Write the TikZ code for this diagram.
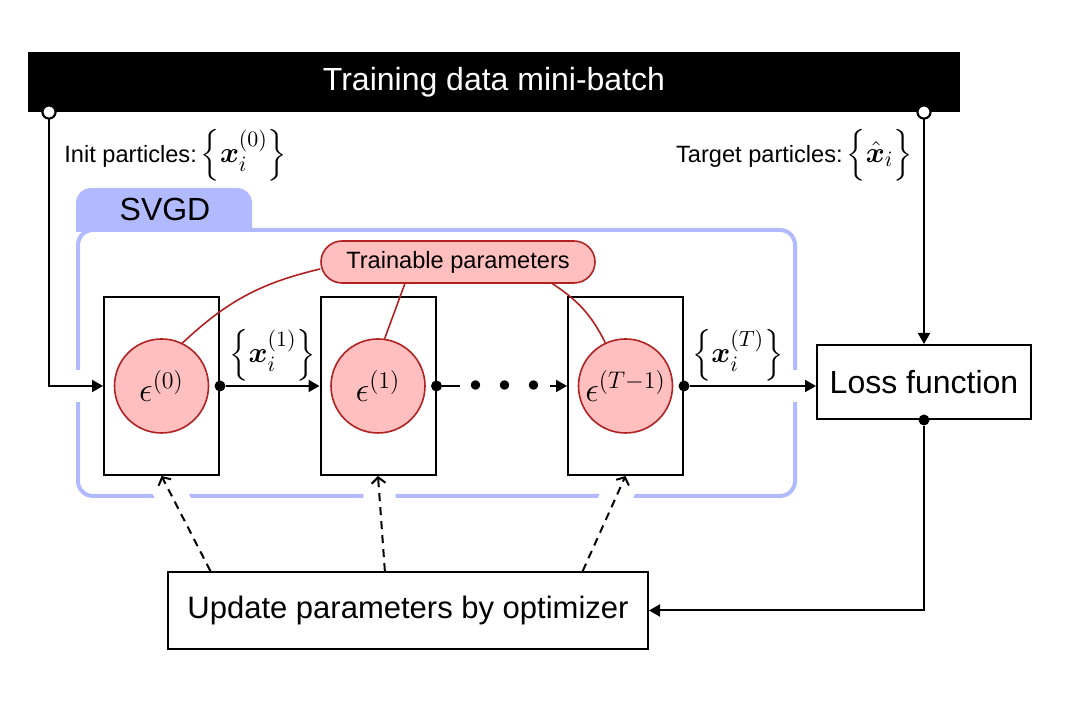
\documentclass[tikz,border=0pt]{standalone}
\usepackage[no-math]{fontspec}
\setmainfont{Liberation Sans}
\usepackage{amsmath,bm}
\usetikzlibrary{arrows.meta,calc}
\definecolor{svgdblue}{RGB}{178,186,255}
\definecolor{redfill}{RGB}{255,191,191}
\definecolor{redline}{RGB}{178,34,34}
\pgfdeclarelayer{back}
\pgfdeclarelayer{mid}
\pgfsetlayers{back,mid,main}
\newcommand{\myfs}[1]{\fontsize{#1}{#1}\selectfont}
\begin{document}
\begin{tikzpicture}[x=0.5pt,y=0.5pt,
  procbox/.style={draw, line width=1pt, fill=white, minimum width=57.5pt, minimum height=89pt, inner sep=0pt},
  param/.style={circle, draw=redline, fill=redfill, line width=0.8pt, minimum size=47pt, inner sep=0pt, font=\myfs{17}},
  blackdot/.style={circle, fill=black, minimum size=5.5pt, inner sep=0pt},
  opendot/.style={circle, draw=black, fill=white, line width=1pt, minimum size=6.5pt, inner sep=0pt},
  conn/.style={line width=1pt, -{Triangle[length=5.5pt,width=6pt]}},
  dasharr/.style={line width=1pt, dash pattern=on 4pt off 3pt, -{Straight Barb[length=3pt,width=7pt]}},
  redconn/.style={draw=redline, line width=0.8pt},
  halo/.style={draw=white, line width=16pt},
  bigbox/.style={draw, line width=1pt, fill=white, inner sep=0pt},
  mathlbl/.style={font=\myfs{15.5}, inner sep=0pt}
]
\useasboundingbox (0,0) rectangle (1072,704);

% top bar
\node[fill=black, minimum width=466pt, minimum height=30pt, inner sep=0pt, text=white, font=\myfs{16}] (bar) at (494,622) {Training data mini-batch};

% labels
\node[anchor=west, inner sep=0pt, font=\myfs{11.8}] (initlbl) at (64,549) {Init particles:\,{\myfs{15.5}$\Bigl\{\bm{x}_i^{(0)}\Bigr\}$}};
\node[anchor=east, inner sep=0pt, font=\myfs{11.8}] (tgtlbl) at (913,549) {Target particles:\,{\myfs{15.5}$\Bigl\{\hat{\bm{x}}_i\Bigr\}$}};

% SVGD frame
\begin{pgfonlayer}{back}
  \draw[svgdblue, line width=2pt, rounded corners=7.5pt] (78,208) rectangle (795,474);
  \begin{scope}
    \clip (0,472) rectangle (1072,704);
    \fill[svgdblue, rounded corners=7.5pt] (76,440) rectangle (252,516);
  \end{scope}
\end{pgfonlayer}
\node[font=\myfs{16}, inner sep=0pt] (svgd) at (165,494) {SVGD};

% processing boxes
\node[procbox] (b1) at (161.5,318) {};
\node[procbox] (b2) at (378,318) {};
\node[procbox] (b3) at (625.5,318) {};
\node[param] (c1) at (b1) {$\epsilon^{(0)}$};
\node[param] (c2) at (b2) {$\epsilon^{(1)}$};
\node[param] (c3) at (b3) {$\epsilon^{(T-1)}$};

% loss and update
\node[bigbox, minimum width=107pt, minimum height=37pt, font=\myfs{16}] (loss) at (924,322) {Loss function};
\node[bigbox, minimum width=240pt, minimum height=38.5pt, font=\myfs{15.5}] (upd) at (408,93.5) {Update parameters by optimizer};

% trainable parameters
\node[draw=redline, fill=redfill, line width=0.8pt, rounded corners=10.5pt, minimum width=137pt, minimum height=21pt, inner sep=0pt, font=\myfs{11.8}] (train) at (458,442) {Trainable parameters};

% coordinates on the update box
\coordinate (u1) at ($(upd.north west)!0.09!(upd.north east)$);
\coordinate (u2) at ($(upd.north west)!0.452!(upd.north east)$);
\coordinate (u3) at ($(upd.north west)!0.8625!(upd.north east)$);

% halos that cut the SVGD frame
\begin{pgfonlayer}{mid}
  \draw[halo] (49,318) -- (b1.west);
  \draw[halo] (b3.east) -- (b3.east -| loss.west);
  \draw[halo] (u1) -- (b1.south);
  \draw[halo] (u2) -- (b2.south);
  \draw[halo] (u3) -- (b3.south);
\end{pgfonlayer}

% connectors
\node[opendot] (o1) at (49,592) {};
\node[opendot] (o2) at (924,592) {};
\draw[conn] (o1) |- (b1.west);
\draw[conn] (o2) -- (loss.north);
\node[opendot] at (o1) {};
\node[opendot] at (o2) {};

\node[blackdot] (d1) at (b1.east) {};
\node[blackdot] (d2) at (b2.east) {};
\node[blackdot] (d3) at (b3.east) {};
\node[blackdot] (d4) at (loss.south) {};

\draw[conn] (d1) -- node[above=2pt, mathlbl] {$\Bigl\{\bm{x}_i^{(1)}\Bigr\}$} (b2.west);
\draw[conn] (d2) -- node[fill=white, inner xsep=5pt, inner ysep=1pt, font=\myfs{13}] {$\bullet$\hspace{8.5pt}$\bullet$\hspace{8.5pt}$\bullet$} (b3.west);
\draw[conn] (d3) -- node[above=2pt, pos=0.38, mathlbl] {$\Bigl\{\bm{x}_i^{(T)}\Bigr\}$} (d3 -| loss.west);
\draw[conn] (d4) |- (upd.east);

\draw[dasharr] (u1) -- (b1.south);
\draw[dasharr] (u2) -- (b2.south);
\draw[dasharr] (u3) -- (b3.south);

% red links
\draw[redconn] (c1.64) to[bend left=15] ($(train.west)+(0,-7)$);
\draw[redconn] (c2.82) -- ($(train.south west)!0.307!(train.south east)$);
\draw[redconn] (c3.115) to[bend right=15] ($(train.south west)!0.843!(train.south east)$);
\end{tikzpicture}
\end{document}
